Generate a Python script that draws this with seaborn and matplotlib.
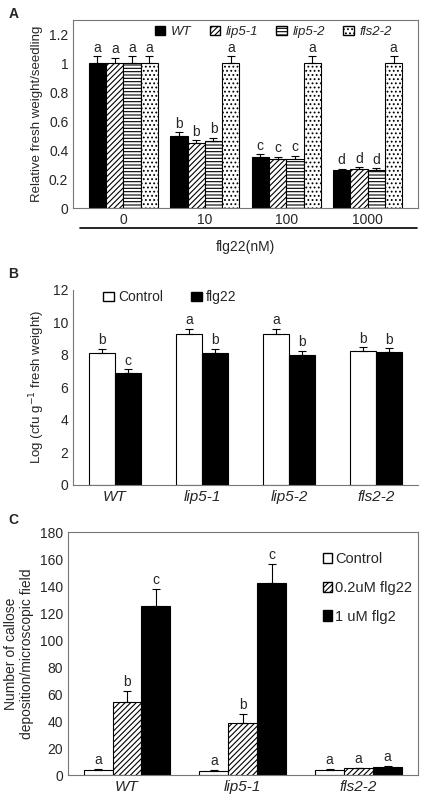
import matplotlib
matplotlib.use("Agg")
import matplotlib.pyplot as plt
import seaborn as sns
import pandas as pd
import numpy as np
from matplotlib.patches import Patch
from matplotlib.lines import Line2D

sns.set_style("white")
plt.rcParams['font.family'] = ['Liberation Sans', 'DejaVu Sans']
plt.rcParams['hatch.linewidth'] = 0.8

# Panel A
a_doses = ["0", "10", "100", "1000"]
a_genotypes = ["WT", "lip5-1", "lip5-2", "fls2-2"]
a_vals = {"WT": [1.0, 0.50, 0.35, 0.26], "lip5-1": [1.0, 0.45, 0.34, 0.27],
          "lip5-2": [1.0, 0.46, 0.34, 0.265], "fls2-2": [1.0, 1.0, 1.0, 1.0]}
a_err = {"WT": [0.05, 0.025, 0.02, 0.012], "lip5-1": [0.04, 0.02, 0.015, 0.012],
         "lip5-2": [0.05, 0.025, 0.02, 0.01], "fls2-2": [0.05, 0.05, 0.05, 0.05]}
a_letters = {"WT": ["a", "b", "c", "d"], "lip5-1": ["a", "b", "c", "d"],
             "lip5-2": ["a", "b", "c", "d"], "fls2-2": ["a", "a", "a", "a"]}

# Panel B
b_genotypes = ["WT", "lip5-1", "lip5-2", "fls2-2"]
b_treat = ["Control", "flg22"]
b_vals = {"Control": [8.1, 9.3, 9.3, 8.2], "flg22": [6.9, 8.1, 8.0, 8.15]}
b_err = {"Control": [0.25, 0.3, 0.3, 0.25], "flg22": [0.2, 0.25, 0.25, 0.25]}
b_letters = {"Control": ["b", "a", "a", "b"], "flg22": ["c", "b", "b", "b"]}

# Panel C
c_genotypes = ["WT", "lip5-1", "fls2-2"]
c_treat = ["Control", "0.2uM flg22", "1 uM flg2"]
c_vals = {"Control": [4, 3, 4], "0.2uM flg22": [54, 39, 5], "1 uM flg2": [125, 142, 6]}
c_err = {"Control": [0.6, 0.5, 0.6], "0.2uM flg22": [8, 6, 0.6], "1 uM flg2": [13, 14, 1]}
c_letters = {"Control": ["a", "a", "a"], "0.2uM flg22": ["b", "b", "a"], "1 uM flg2": ["c", "c", "a"]}

fig = plt.figure(figsize=(4.23, 8), dpi=100)

def draw(ax, cats, groups, vals, errs, letters, styles, width, loff, fs):
    rows = [(c, g, vals[g][i]) for g in groups for i, c in enumerate(cats)]
    df = pd.DataFrame(rows, columns=["cat", "grp", "val"])
    sns.barplot(data=df, x="cat", y="val", hue="grp", order=cats, hue_order=groups,
                errorbar=None, ax=ax, width=width, legend=False)
    for g, cont in zip(groups, ax.containers):
        fc, h = styles[g]
        for i, p in enumerate(cont.patches):
            p.set_facecolor(fc); p.set_hatch(h); p.set_edgecolor("black"); p.set_linewidth(0.8)
            x = p.get_x() + p.get_width() / 2
            y = p.get_height()
            ax.errorbar(x, y, yerr=[[0], [errs[g][i]]], color="black", capsize=3, lw=0.8, capthick=0.8)
            ax.text(x, y + errs[g][i] + loff, letters[g][i], ha="center", va="bottom", fontsize=fs)

# A
axA = fig.add_axes([0.173, 0.74, 0.815, 0.235])
stylesA = {"WT": ("black", ""), "lip5-1": ("white", "//////"), "lip5-2": ("white", "-----"), "fls2-2": ("white", "....")}
draw(axA, a_doses, a_genotypes, a_vals, a_err, a_letters, stylesA, 0.85, 0.01, 10)
axA.set_ylim(0, 1.3); axA.set_yticks(np.arange(0, 1.21, 0.2))
axA.set_yticklabels(["0", "0.2", "0.4", "0.6", "0.8", "1", "1.2"])
axA.set_ylabel("Relative fresh weight/seedling", fontsize=9.5)
axA.set_xlabel("")
for s in axA.spines.values(): s.set_color("#777777")
hA = [Patch(facecolor=stylesA[g][0], hatch=stylesA[g][1], edgecolor="black", label=g) for g in a_genotypes]
axA.legend(handles=hA, loc="upper center", ncol=4, frameon=False, handlelength=0.8,
           handletextpad=0.4, columnspacing=1.4, bbox_to_anchor=(0.58, 1.03), prop={"style": "italic", "size": 9.5})
fig.add_artist(Line2D([0.19, 0.985], [0.715, 0.715], color="black", lw=1.2, transform=fig.transFigure))
fig.text(0.58, 0.686, "flg22(nM)", ha="center", fontsize=10)
fig.text(0.02, 0.978, "A", fontsize=10, fontweight="bold")

# B
axB = fig.add_axes([0.173, 0.394, 0.815, 0.244])
stylesB = {"Control": ("white", ""), "flg22": ("black", "")}
draw(axB, b_genotypes, b_treat, b_vals, b_err, b_letters, stylesB, 0.6, 0.1, 10)
axB.set_ylim(0, 12); axB.set_yticks(range(0, 13, 2))
axB.set_ylabel("Log (cfu g$^{-1}$ fresh weight)", fontsize=9.5)
axB.set_xlabel("")
axB.set_xticks(range(4)); axB.set_xticklabels(b_genotypes, style="italic", fontsize=11)
for s in ["top", "right"]: axB.spines[s].set_visible(False)
for s in ["left", "bottom"]: axB.spines[s].set_color("#777777")
hB = [Patch(facecolor=stylesB[g][0], edgecolor="black", label=g) for g in b_treat]
axB.legend(handles=hB, loc="upper left", ncol=2, frameon=False, fontsize=10, handlelength=0.8,
           handletextpad=0.3, bbox_to_anchor=(0.05, 1.06))
fig.text(0.02, 0.652, "B", fontsize=10, fontweight="bold")

# C
axC = fig.add_axes([0.16, 0.031, 0.828, 0.304])
stylesC = {"Control": ("white", ""), "0.2uM flg22": ("white", "//////"), "1 uM flg2": ("black", "")}
draw(axC, c_genotypes, c_treat, c_vals, c_err, c_letters, stylesC, 0.75, 1.5, 10)
axC.set_ylim(0, 180); axC.set_yticks(range(0, 181, 20))
axC.set_ylabel("Number of callose\ndeposition/microscopic field", fontsize=10)
axC.set_xlabel("")
axC.set_xticks(range(3)); axC.set_xticklabels(c_genotypes, style="italic", fontsize=11)
for s in axC.spines.values(): s.set_color("#777777")
hC = [Patch(facecolor=stylesC[g][0], hatch=stylesC[g][1], edgecolor="black", label=g) for g in c_treat]
axC.legend(handles=hC, loc="upper right", frameon=False, fontsize=10.5, handlelength=0.6,
           handletextpad=0.2, labelspacing=1.0, bbox_to_anchor=(1.02, 0.97))
fig.text(0.02, 0.345, "C", fontsize=10, fontweight="bold")

for ax in (axA, axB, axC):
    ax.tick_params(labelsize=10, length=0)
axB.tick_params(axis="x", labelsize=11)
axC.tick_params(axis="x", labelsize=11)

fig.savefig("out.png", dpi=100)
